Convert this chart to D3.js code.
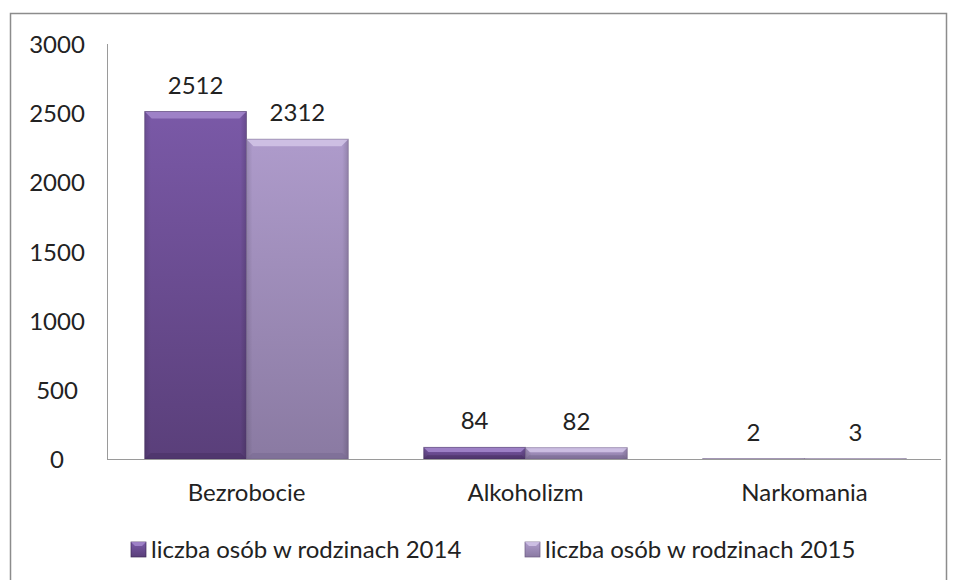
<!DOCTYPE html>
<html><head><meta charset="utf-8">
<script src="https://cdn.jsdelivr.net/npm/d3@7"></script>
<style>body{margin:0;background:#fff}svg{display:block}text{font-family:Lato,"Open Sans",sans-serif;fill:#222}</style>
</head><body><svg id="c" width="957" height="580"></svg>
<script>
const categories = ["Bezrobocie","Alkoholizm","Narkomania"];
const seriesNames = ["liczba osób w rodzinach 2014","liczba osób w rodzinach 2015"];
const values2014 = [2512, 84, 2];
const values2015 = [2312, 82, 3];
const yTicks = [0,500,1000,1500,2000,2500,3000];

(function(){
const svg = d3.select("#c");
const defs = svg.append("defs");
const FONT = "Lato,'Open Sans',sans-serif";
const palettes = [
  {id:"g0", top:"#7a59a7", bottom:"#5a3f7a", light:"#a488cc", dark:"#4a3266", edge:"#3e2a58"},
  {id:"g1", top:"#ae9bcb", bottom:"#8a7aa2", light:"#d2c5e8", dark:"#7a6a92", edge:"#6a5a80"}
];
palettes.forEach(p=>{
  const g = defs.append("linearGradient").attr("id",p.id).attr("x1",0).attr("x2",0).attr("y1",0).attr("y2",1);
  g.append("stop").attr("offset","0%").attr("stop-color",p.top);
  g.append("stop").attr("offset","100%").attr("stop-color",p.bottom);
  const h = defs.append("linearGradient").attr("id",p.id+"h").attr("x1",0).attr("x2",1).attr("y1",0).attr("y2",0);
  h.append("stop").attr("offset","0%").attr("stop-color","#000").attr("stop-opacity",0.12);
  h.append("stop").attr("offset","6%").attr("stop-color","#000").attr("stop-opacity",0);
  h.append("stop").attr("offset","94%").attr("stop-color","#000").attr("stop-opacity",0);
  h.append("stop").attr("offset","100%").attr("stop-color","#000").attr("stop-opacity",0.15);
});

svg.append("path").attr("d","M10.5,600 V13.5 H946.5 V600").attr("fill","none").attr("stroke","#8c8c8c").attr("stroke-width",1.5);

const pLeft=107, pRight=944, pTop=44, pBottom=459;
const x = d3.scaleBand().domain(categories).range([pLeft,pRight]).paddingInner(0.27).paddingOuter(0.135);
const xs = d3.scaleBand().domain([0,1]).range([0,x.bandwidth()]);
const y = d3.scaleLinear().domain([0,3000]).range([pBottom,pTop]);

svg.append("line").attr("x1",pLeft+0.5).attr("x2",pLeft+0.5).attr("y1",pTop).attr("y2",pBottom).attr("stroke","#9a9a9a");

const yAxis = d3.axisLeft(y).tickValues(yTicks).tickSize(0).tickPadding(0).tickFormat(d3.format("d"));
const ya = svg.append("g").attr("transform",`translate(57,0)`).call(yAxis);
ya.select(".domain").remove();
ya.selectAll("text").attr("text-anchor","middle").attr("x",0).attr("dy","0.36em")
  .style("font-size","24px").style("font-family",FONT).attr("fill","#222");

const data = [values2014, values2015];
data.forEach((vals,si)=>{
  const p = palettes[si];
  const g = svg.append("g");
  categories.forEach((c,i)=>{
    const x0 = x(c)+xs(si), w = xs.bandwidth(), y0 = y(vals[i]), h = pBottom - y0;
    g.append("rect").attr("x",x0).attr("y",y0).attr("width",w).attr("height",h).attr("fill",`url(#${p.id})`);
    g.append("rect").attr("x",x0).attr("y",y0).attr("width",w).attr("height",h).attr("fill",`url(#${p.id}h)`);
    if(h>3){
      const b = Math.min(7, h/2.5);
      g.append("path").attr("d",`M${x0},${y0} H${x0+w} L${x0+w-b},${y0+b} H${x0+b} Z`).attr("fill",p.light).attr("opacity",0.85);
      const bb = Math.min(6, h/3);
      g.append("path").attr("d",`M${x0},${pBottom} H${x0+w} L${x0+w-bb},${pBottom-bb} H${x0+bb} Z`).attr("fill",p.dark).attr("opacity",0.6);
    }
    g.append("rect").attr("x",x0).attr("y",y0).attr("width",w).attr("height",h).attr("fill","none").attr("stroke",p.edge).attr("stroke-opacity",0.45);
    svg.append("text").attr("x",x0+w/2).attr("y",y0-18).attr("text-anchor","middle")
      .style("font-size","24px").style("font-family",FONT).text(vals[i]);
  });
});

svg.append("line").attr("x1",pLeft).attr("x2",pRight-3).attr("y1",pBottom+0.5).attr("y2",pBottom+0.5).attr("stroke","#9a9a9a");

const xAxis = d3.axisBottom(x).tickSize(0).tickPadding(0);
const xa = svg.append("g").attr("transform",`translate(0,${pBottom+42})`).call(xAxis);
xa.select(".domain").remove();
xa.selectAll("text").style("font-size","24px").style("font-family",FONT).attr("fill","#222").attr("dy","0");

const legX = [131, 525];
seriesNames.forEach((n,i)=>{
  const p = palettes[i];
  const lx = legX[i];
  svg.append("rect").attr("x",lx).attr("y",542).attr("width",15).attr("height",15).attr("fill",`url(#${p.id})`).attr("stroke",p.edge).attr("stroke-width",0.7);
  svg.append("path").attr("d",`M${lx},542 H${lx+15} L${lx+11},546 H${lx+4} Z`).attr("fill",p.light).attr("opacity",0.85);
  svg.append("text").attr("x",lx+20).attr("y",558).style("font-size","24px").style("font-family",FONT).text(n);
});
})();
</script></body></html>
